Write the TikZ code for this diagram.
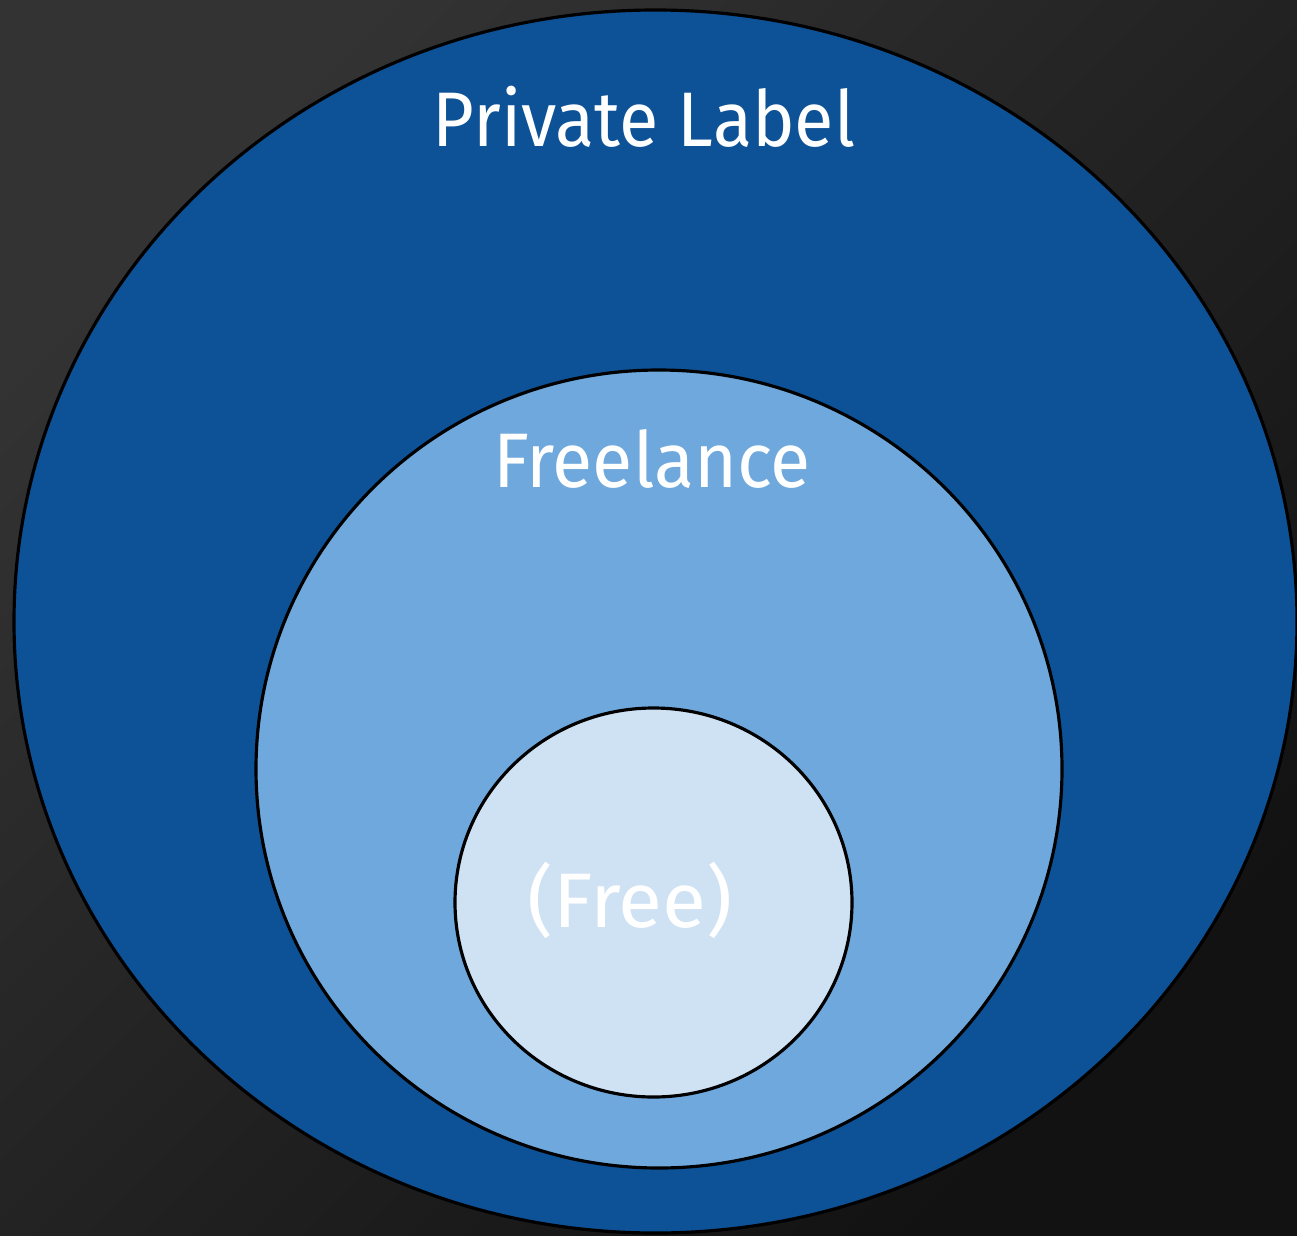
\documentclass[tikz,border=0pt]{standalone}
\usepackage{fontspec}
\setmainfont{Fira Sans}
\definecolor{bgtop}{HTML}{333333}
\definecolor{bgbot}{HTML}{121212}
\definecolor{paidblue}{HTML}{0D5296}
\definecolor{midblue}{HTML}{6FA8DC}
\definecolor{paleblue}{HTML}{CFE2F3}
\tikzset{
  ring/.style={draw=black, line width=0.9pt},
  ringtext/.style={anchor=base, text=white, font=\fontsize{22}{26}\selectfont}
}

\begin{document}
\begin{tikzpicture}[x=0.01cm, y=0.01cm]
			%%%%% BACKGROUND %%%%%
			\useasboundingbox (0, 0) rectangle (1297, 1235);
			\clip (0, 0) rectangle (1297, 1235);
			\shade[top color=bgtop, bottom color=bgbot, shading angle=45] (0, 0) rectangle (1297, 1235);
			
			%%%%% RINGS %%%%%
			\draw[ring, fill=paidblue] (655.5, 613.5) ellipse (641.5 and 611.5);
			\draw[ring, fill=midblue] (659, 466) ellipse (403 and 399);
			\draw[ring, fill=paleblue] (653.5, 332.5) ellipse (198.5 and 194.5);
			
			%%%%% LABELS %%%%%
			\node[ringtext, xscale=0.93] (private) at (644, 1088) {Private Label};
			\node[ringtext, xscale=0.95] (freelance) at (652, 748) {Freelance};
			\node[ringtext, xscale=1.04] (free) at (630, 308) {(Free)};
		\end{tikzpicture}
\end{document}
